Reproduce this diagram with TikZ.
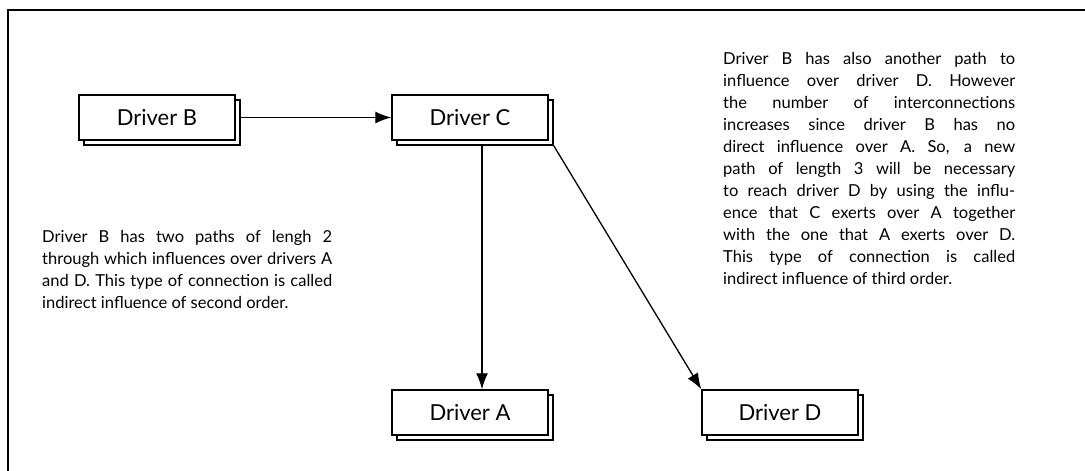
\documentclass[tikz,border=0pt]{standalone}
\usepackage{fontspec}
\setmainfont{Lato}
\usetikzlibrary{positioning,shadows,arrows.meta}
\begin{document}
\begin{tikzpicture}[
                            x=1pt, y=-1pt,
                            node distance=313pt,
                            >={Latex[length=16pt,width=12pt]},
                            drv/.style={draw, rectangle, line width=1.5pt, fill=white, minimum height=45pt, minimum width=156pt,
                              font=\fontsize{22}{24}\selectfont, copy shadow={shadow xshift=5pt, shadow yshift=-5pt}},
                            note/.style={align=justify, text width=290pt, inner sep=0pt, font=\fontsize{16.5}{22}\selectfont}
                            ]

                            \useasboundingbox (0,0) rectangle (1085,471);
                            \draw[line width=1.4pt] (8,471) -- (8,10) -- (1085,10);

                            \node [drv] (drvB) at (157,117.5) {Driver B};
                            \node [drv, right of = drvB] (drvC) {Driver C};
                            \node [drv, below of = drvC, node distance=295pt] (drvA) {Driver A};
                            \node [drv, right of = drvA, node distance=310pt] (drvD) {Driver D};

                            \draw[->, line width=1.3pt] ([xshift=5pt]drvB.east) -- (drvC.west);
                            \draw[->, line width=1.3pt] ([xshift=12pt,yshift=-5pt]drvC.south) -- ([xshift=12pt]drvA.north);
                            \draw[->, line width=1.3pt] ([shift={(5pt,-5pt)}]drvC.south east) -- (drvD.north west);

                            \node [note, anchor=north west] (noteTwo) at (42,230) {Driver B has two paths of lengh 2\linebreak
                              through which influences over drivers A\linebreak
                              and D. This type of connection is called\linebreak
                              indirect influence of second order.};
                            \node [note, anchor=north west, text width=292pt] (noteThree) at (723,52) {Driver B has also another path to\linebreak
                              influence over driver D. However\linebreak
                              the number of interconnections\linebreak
                              increases since driver B has no\linebreak
                              direct influence over A. So, a new\linebreak
                              path of length 3 will be necessary\linebreak
                              to reach driver D by using the influ-\linebreak
                              ence that C exerts over A together\linebreak
                              with the one that A exerts over D.\linebreak
                              This type of connection is called\linebreak
                              indirect influence of third order.};
                        \end{tikzpicture}
\end{document}
